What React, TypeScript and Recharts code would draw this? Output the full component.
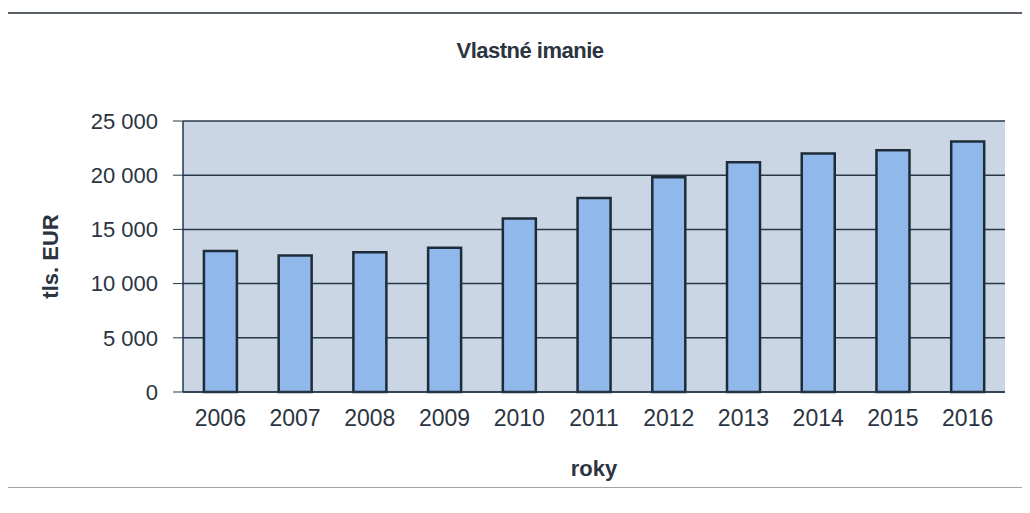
import { Bar, BarChart, CartesianGrid, XAxis, YAxis } from 'recharts'

const years = ['2006', '2007', '2008', '2009', '2010', '2011', '2012', '2013', '2014', '2015', '2016']
const equity = [13000, 12600, 12900, 13300, 16000, 17900, 19800, 21200, 22000, 22300, 23100]
const yTicks = [0, 5000, 10000, 15000, 20000, 25000]

const data = years.map((year, i) => ({ year, value: equity[i] }))

const font = '"Liberation Sans", Arial, sans-serif'
const textColor = '#2b3440'

function formatThousands(v: number) {
  return String(v).replace(/\B(?=(\d{3})+(?!\d))/g, ' ')
}

export default function App() {
  return (
    <div style={{ position: 'relative', width: 1030, height: 513, margin: -8, background: '#fff', fontFamily: font }}>
      <BarChart
        width={1030}
        height={513}
        data={data}
        margin={{ top: 121, right: 25, bottom: 91, left: 103 }}
        barCategoryGap="28%"
        style={{ position: 'absolute', left: 0, top: 0 }}
      >
        <CartesianGrid vertical={false} fill="#cad6e4" stroke="#26384a" strokeWidth={1.5} />
        <XAxis
          dataKey="year"
          height={30}
          tickLine={false}
          axisLine={{ stroke: '#26384a', strokeWidth: 1.5 }}
          tickMargin={12}
          tick={{ fill: textColor, fontSize: 23, fontFamily: font }}
          label={{ value: 'roky', position: 'insideBottom', offset: -54, fill: textColor, fontSize: 22, fontWeight: 'bold', fontFamily: font }}
        />
        <YAxis
          width={80}
          domain={[0, 25000]}
          ticks={yTicks}
          tickFormatter={formatThousands}
          tickSize={10}
          tickMargin={15}
          tickLine={{ stroke: '#26384a' }}
          axisLine={{ stroke: '#26384a', strokeWidth: 1.5 }}
          tick={{ fill: textColor, fontSize: 22, fontFamily: font }}
          label={{ value: 'tls. EUR', angle: -90, position: 'insideLeft', offset: -53, fill: textColor, fontSize: 22, fontWeight: 'bold', fontFamily: font, style: { textAnchor: 'middle' } }}
        />
        <Bar dataKey="value" fill="#90b8ea" stroke="#1e2c3a" strokeWidth={2.5} isAnimationActive={false} />
      </BarChart>
      <div
        style={{
          position: 'absolute',
          top: 38,
          left: 0,
          width: 1060,
          textAlign: 'center',
          fontSize: 22,
          fontWeight: 'bold',
          color: textColor,
          letterSpacing: -0.5,
        }}
      >
        Vlastné imanie
      </div>
      <div
        style={{
          position: 'absolute',
          left: 7,
          top: 12,
          width: 1014,
          height: 473,
          borderLeft: '1px solid #8a9096',
          borderRight: '1px solid #8a9096',
          borderBottom: '1px solid #a0a4a8',
          borderTop: '2px solid #5a6068',
          pointerEvents: 'none',
        }}
      />
    </div>
  )
}
